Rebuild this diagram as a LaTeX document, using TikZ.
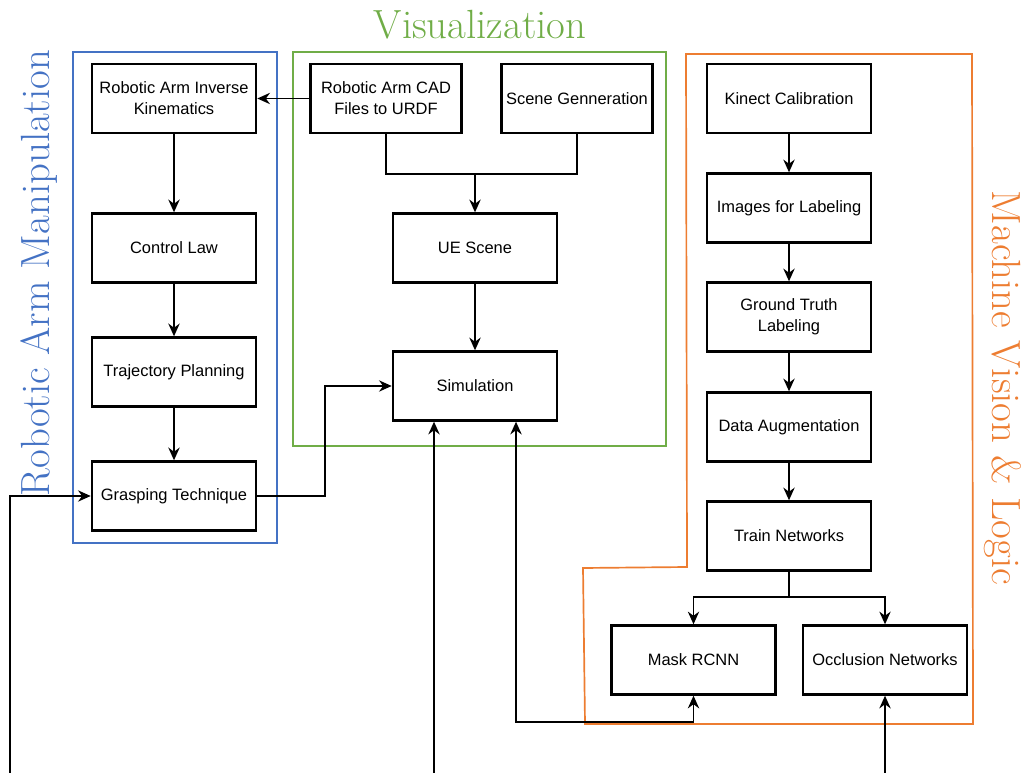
\documentclass[tikz,border=0pt]{standalone}
\usepackage{fontspec}
\newfontfamily\boxfont{Liberation Sans}
\usetikzlibrary{arrows.meta}
\definecolor{armblue}{RGB}{68,114,196}
\definecolor{visgreen}{RGB}{112,173,71}
\definecolor{mvorange}{RGB}{237,125,49}
\begin{document}
\begin{tikzpicture}[x=0.025cm,y=-0.025cm,
  block/.style={draw,line width=1.8pt,minimum width=4.1cm,minimum height=1.72cm,inner sep=0pt,align=center,font=\boxfont\fontsize{11.7}{15}\selectfont},
  narrow/.style={block,minimum width=3.78cm},
  link/.style={line width=1.4pt,-{Stealth[length=9pt,width=8pt]}},
  group/.style={line width=1.2pt},
  title/.style={font=\fontsize{29}{33}\selectfont}]
\useasboundingbox (0,0) rectangle (1030,773);
%=======group frames=============
\draw[group,armblue] (73,52) rectangle (277,543);
\draw[group,visgreen] (293,52) rectangle (666,446);
\draw[group,mvorange] (686,54)--(972,54)--(973,724)--(585,724)--(583,568)--(687,567)--cycle;
\node[title,visgreen] (vistitle) at (480,25) {Visualization};
\node[title,armblue,rotate=90] (armtitle) at (39,273) {Robotic Arm Manipulation};
\node[title,mvorange,rotate=-90] (mvtitle) at (1003,388) {Machine Vision \& Logic};
%=======robotic arm manipulation=============
\node[block] (ik) at (174,98.5) {Robotic Arm Inverse\\Kinematics};
\node[block] (law) at (174,248) {Control Law};
\node[block] (traj) at (174,372) {Trajectory Planning};
\node[block] (grasp) at (174,496) {Grasping Technique};
%=======visualization=============
\node[narrow] (cad) at (386,98.5) {Robotic Arm CAD\\Files to URDF};
\node[narrow] (scene) at (577,98.5) {Scene Genneration};
\node[block] (ue) at (475,248) {UE Scene};
\node[block] (sim) at (475,386) {Simulation};
%=======machine vision & logic=============
\node[block] (kinect) at (789,98.5) {Kinect Calibration};
\node[block] (images) at (789,208) {Images for Labeling};
\node[block] (truth) at (789,317) {Ground Truth\\Labeling};
\node[block] (augment) at (789,427) {Data Augmentation};
\node[block] (train) at (789,536) {Train Networks};
\node[block] (mask) at (693.5,660) {Mask RCNN};
\node[block] (occl) at (885,660) {Occlusion Networks};
%=======free ends and bends=============
\coordinate (inleft) at (10,773);
\coordinate (insim) at (434,773);
\coordinate (inoccl) at (885,773);
\coordinate (simtap) at (516,722);
\coordinate (urdfjoin) at (475,174);
\coordinate (graspbend) at (325,386);
\coordinate (trainsplit) at (789,597);
%=======connectors=============
\draw[link] (cad)--(ik);
\draw[link] (ik)--(law);
\draw[link] (law)--(traj);
\draw[link] (traj)--(grasp);
\draw[link] (cad.south)|-(urdfjoin)--(ue.north);
\draw[line width=1.4pt] (scene.south)|-(urdfjoin);
\draw[link] (ue)--(sim);
\draw[link] (grasp.east)-|(graspbend)--(sim.west);
\draw[link] (inleft)|-(grasp.west);
\draw[link] (insim)--(insim|-sim.south);
\draw[line width=1.4pt,{Stealth[length=9pt,width=8pt]}-{Stealth[length=9pt,width=8pt]}] (simtap|-sim.south)--(simtap)-|(mask.south);
\draw[link] (kinect)--(images);
\draw[link] (images)--(truth);
\draw[link] (truth)--(augment);
\draw[link] (augment)--(train);
\draw[link] (train.south)--(trainsplit)-|(mask.north);
\draw[link] (trainsplit)-|(occl.north);
\draw[link] (inoccl)--(occl.south);
\end{tikzpicture}
\end{document}
